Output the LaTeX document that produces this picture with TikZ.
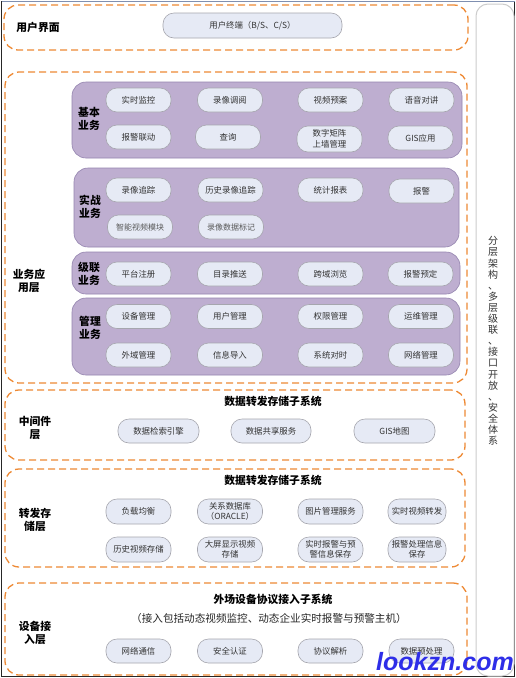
\documentclass[tikz,border=0pt]{standalone}
\usepackage{fontspec}
\setmainfont{Noto Sans CJK SC}
\newfontfamily\wmfont{Liberation Sans}
\definecolor{dashor}{HTML}{EE8A35}
\definecolor{purfill}{HTML}{BEAED0}
\definecolor{purdraw}{HTML}{9484AE}
\definecolor{pillfill}{HTML}{E6EAF5}
\definecolor{pilldraw}{HTML}{A6A6AE}
\definecolor{wmblue}{HTML}{2E2EE8}
\definecolor{topline}{HTML}{7F8FB0}
\begin{document}
\begin{tikzpicture}[x=1pt,y=-1pt,
  layerbox/.style={draw=dashor, line width=1.3pt, dash pattern=on 7pt off 4pt, rounded corners=14pt, inner sep=0pt},
  purbox/.style={draw=purdraw, fill=purfill, line width=0.6pt, rounded corners=14pt, inner sep=0pt},
  pill/.style={draw=pilldraw, fill=pillfill, line width=0.6pt, rounded corners=11pt, minimum width=65pt, minimum height=24pt, inner sep=0pt, align=center, font=\fontsize{8.4}{10.5}\selectfont, text=black!80},
  pillser/.style={pill, font=\fontsize{8}{10}\selectfont, text=black!65},
  lbl/.style={font=\fontsize{10.8}{13}\selectfont\bfseries, align=center, inner sep=0pt},
  ttl/.style={font=\fontsize{10.8}{13}\selectfont\bfseries, inner sep=0pt},
]
\useasboundingbox (0,0) rectangle (516,678);
\fill[white] (0,0) rectangle (516,678);
% outer frame
\draw[black!85, line width=1.5pt] (1.5,1.5) rectangle (514.5,676.5);
\draw[topline, line width=1pt] (1.5,1) -- (514.5,1);

% right panel
\node[draw=black!20, line width=1pt, rounded corners=12pt, minimum width=38pt, minimum height=672pt, inner sep=0pt] (side) at (495,340) {};
\node[font=\fontsize{10}{11.1}\selectfont, align=center, inner sep=0pt, text=black!80] (sidetxt) at (493,341)
 {分\\层\\架\\构\\、\\多\\层\\级\\联\\、\\接\\口\\开\\放\\、\\安\\全\\体\\系};

% ===== 用户界面
\node[layerbox, minimum width=464pt, minimum height=45pt] (L1) at (236,27.5) {};
\node[lbl] (L1lbl) at (38,27) {用户界面};
\node[pill, minimum width=179pt, minimum height=25pt] (ut) at (252.5,25.5) {用户终端（B/S、C/S）};

% ===== 业务应用层
\node[layerbox, minimum width=462pt, minimum height=311pt] (L2) at (236,227.5) {};
\node[lbl] (L2lbl) at (29,281) {业务应\\用层};

% 基本业务
\node[purbox, minimum width=390pt, minimum height=76pt] (P1) at (267,120) {};
\node[lbl] (P1lbl) at (89,119) {基本\\业务};
\node[pill] (a1) at (138.5,100) {实时监控};
\node[pill] (a2) at (230,100) {录像调阅};
\node[pill] (a3) at (330.5,100) {视频预案};
\node[pill] (a4) at (421.5,100) {语音对讲};
\node[pill] (a5) at (138.5,137) {报警联动};
\node[pill] (a6) at (228,137) {查询};
\node[pill, minimum height=26pt] (a7) at (329.5,139) {数字矩阵\\上墙管理};
\node[pill] (a8) at (420.5,138) {GIS应用};

% 实战业务
\node[purbox, minimum width=385pt, minimum height=79pt] (P2) at (266.5,207.5) {};
\node[lbl] (P2lbl) at (90,207) {实战\\业务};
\node[pill] (b1) at (138.5,190) {录像追踪};
\node[pill] (b2) at (230.5,190) {历史录像追踪};
\node[pill] (b3) at (330.5,190) {统计报表};
\node[pill] (b4) at (421.5,191) {报警};
\node[pillser] (b5) at (140,227) {智能视频模块};
\node[pillser] (b6) at (231,227) {录像数据标记};

% 级联业务
\node[purbox, minimum width=388pt, minimum height=42pt] (P3) at (266,273) {};
\node[lbl] (P3lbl) at (89,274) {级联\\业务};
\node[pill] (c1) at (138.5,274) {平台注册};
\node[pill] (c2) at (230,274) {目录推送};
\node[pill] (c3) at (330.5,274) {跨域浏览};
\node[pill] (c4) at (420.5,274) {报警预定};

% 管理业务
\node[purbox, minimum width=388pt, minimum height=77pt] (P4) at (266,336.5) {};
\node[lbl] (P4lbl) at (90,328) {管理\\业务};
\node[pill] (d1) at (138.5,316.5) {设备管理};
\node[pill] (d2) at (230,316.5) {用户管理};
\node[pill] (d3) at (330.5,316.5) {权限管理};
\node[pill] (d4) at (421,316.5) {运维管理};
\node[pill] (d5) at (138.5,355) {外域管理};
\node[pill] (d6) at (230,355) {信息导入};
\node[pill] (d7) at (330.5,355) {系统对时};
\node[pill] (d8) at (421,355) {网络管理};

% ===== 中间件层
\node[layerbox, minimum width=460pt, minimum height=70pt] (L3) at (235,425) {};
\node[ttl] (L3t) at (273,401) {数据转发存储子系统};
\node[lbl] (L3lbl) at (35,428) {中间件\\层};
\node[pill, minimum width=81pt] (m1) at (158.5,431) {数据检索引擎};
\node[pill, minimum width=80pt] (m2) at (271,431) {数据共享服务};
\node[pill, minimum width=81pt] (m3) at (394.5,431) {GIS地图};

% ===== 转发存储层
\node[layerbox, minimum width=460pt, minimum height=98pt] (L4) at (235,518) {};
\node[ttl] (L4t) at (273,480) {数据转发存储子系统};
\node[lbl] (L4lbl) at (35,520) {转发存\\储层};
\node[pill, minimum height=25pt] (s1) at (138.5,511.5) {负载均衡};
\node[pill, minimum height=25pt] (s2) at (230,511.5) {关系数据库\\（ORACLE）};
\node[pill, minimum height=25pt] (s3) at (330.5,511.5) {图片管理服务};
\node[pill, minimum height=25pt, minimum width=58pt] (s4) at (417,511.5) {实时视频转发};
\node[pill, minimum height=25pt] (s5) at (138.5,549.5) {历史视频存储};
\node[pill, minimum height=25pt] (s6) at (230,549.5) {大屏显示视频\\存储};
\node[pill, minimum height=25pt] (s7) at (330.5,549.5) {实时报警与预\\警信息保存};
\node[pill, minimum height=25pt, minimum width=58pt] (s8) at (417,549.5) {报警处理信息\\保存};

% ===== 设备接入层
\node[layerbox, minimum width=462pt, minimum height=92pt] (L5) at (236,629) {};
\node[ttl] (L5t) at (273,599) {外场设备协议接入子系统};
\node[font=\fontsize{10.6}{12}\selectfont, inner sep=0pt, text=black!85] (L5s) at (269,618) {（接入包括动态视频监控、动态企业实时报警与预警主机）};
\node[lbl] (L5lbl) at (35,633) {设备接\\入层};
\node[pill] (e1) at (138.5,651) {网络通信};
\node[pill] (e2) at (230,651) {安全认证};
\node[pill] (e3) at (330.5,651) {协议解析};
\node[pill] (e4) at (421.5,651) {数据预处理};

% watermark
\node[font=\wmfont\fontsize{25}{25}\selectfont\bfseries\itshape, text=wmblue, inner sep=0pt] (wm) at (445,662) {lookzn.com};
\end{tikzpicture}
\end{document}
